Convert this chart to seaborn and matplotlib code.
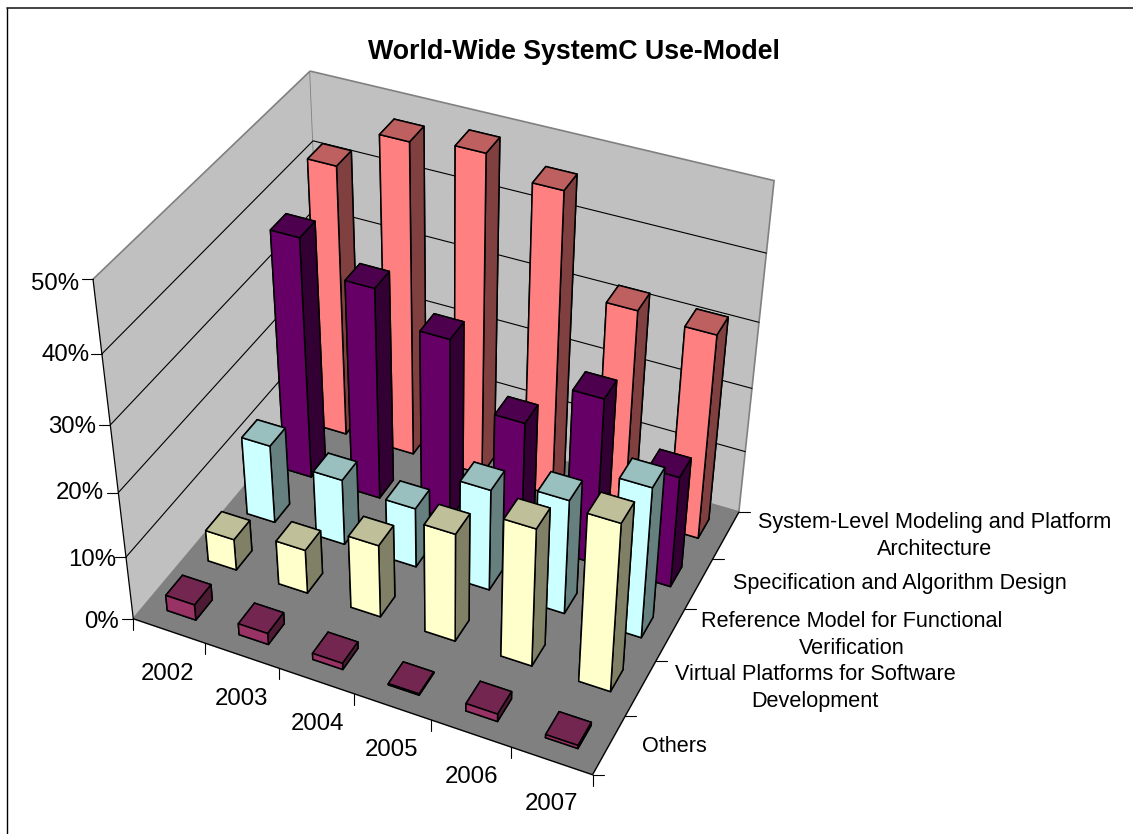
import numpy as np
import pandas as pd
import seaborn as sns
import matplotlib
matplotlib.use("Agg")
import matplotlib.pyplot as plt
from mpl_toolkits.mplot3d import proj3d

W, H = 1133, 834
years = ["2002", "2003", "2004", "2005", "2006", "2007"]
series = ["Others", "Virtual Platforms for Software\nDevelopment", "Reference Model for Functional\nVerification",
          "Specification and Algorithm Design", "System-Level Modeling and Platform\nArchitecture"]
pct_ticks = [0, 10, 20, 30, 40, 50]

others = [2.5, 1.8, 1.0, 0.2, 1.2, 0.5]
virtual_platforms = [5.0, 7.0, 11.5, 17.0, 21.5, 26.0]
reference_model = [12.5, 10.5, 9.5, 16.0, 18.0, 23.5]
spec_algorithm = [37.5, 33.0, 28.5, 19.0, 26.0, 17.5]
system_level = [42.0, 48.0, 49.0, 46.5, 32.3, 31.8]

front = ["#993366", "#FFFFCC", "#CCFFFF", "#660066", "#FF8080"]
top = ["#732650", "#BFBF99", "#99BFBF", "#4D004D", "#BF6060"]
side = ["#4D1A33", "#808066", "#668080", "#330033", "#804040"]

values = pd.DataFrame([others, virtual_platforms, reference_model, spec_algorithm, system_level],
                      index=series, columns=years)

sns.set_theme(style="white")
plt.rcParams['font.family'] = ['Liberation Sans', 'DejaVu Sans']
fig = plt.figure(figsize=(W/100, H/100), dpi=100, facecolor="white")
ax = fig.add_axes([52.66/W, 36.25/H, 763.03/W, 763.03/H], projection='3d', computed_zorder=False)
ax.set_xlim(0, 6); ax.set_ylim(0, 5); ax.set_zlim(0, 50)
ax.view_init(37.840, -64.905, 0.041)
ax.set_proj_type('persp', focal_length=0.5375)
ax.set_box_aspect((1, 0.8322, 0.8319))
ax.apply_aspect()

BAR = 0.4
PAD = (1 - BAR)/2
def to_px(x, y, z):
    u, v, _ = proj3d.proj_transform(x, y, z, ax.get_proj())
    d = ax.transData.transform((u, v))
    return d[0], H - d[1]

ax.set_xticks([]); ax.set_yticks([]); ax.set_zticks([])
ax.grid(False)
ax.xaxis.set_pane_color("#C0C0C0"); ax.yaxis.set_pane_color("#C0C0C0"); ax.zaxis.set_pane_color("#808080")
for a in (ax.xaxis, ax.yaxis, ax.zaxis):
    a.pane.set_edgecolor("#808080")
    a.pane.set_linewidth(1.2)
    a.line.set_color((0, 0, 0, 0))

# gridlines on the two walls
for t in pct_ticks[1:-1]:
    ax.plot((0, 0, 6), (0, 5, 5), (t, t, t), color="black", lw=0.8, zorder=1)

# black front edges
for xs, ys, zs in [((0, 6), (0, 0), (0, 0)), ((6, 6), (0, 5), (0, 0)), ((0, 0), (0, 0), (0, 50))]:
    ax.plot(xs, ys, zs, color="black", lw=0.9, zorder=1)

# back to front, so nearer bars cover the ones behind
z = 2
for j in range(len(series)-1, -1, -1):
    for i in range(len(years)):
        ax.bar3d(i+PAD, j+PAD, 0, BAR, BAR, values.iloc[j, i],
                 color=["none", top[j], front[j], top[j], side[j], side[j]],
                 edgecolor="black", linewidth=1.1, shade=False, zorder=z)
        z += 1

def tick(x, y, zv, dx, dy):
    px, py = to_px(x, y, zv)
    fig.add_artist(plt.Line2D([px/W, (px+dx)/W], [1-py/H, 1-(py+dy)/H], color="black", lw=0.8))

for t in pct_ticks:
    tick(0, 0, t, -11, 0)
for i in range(len(years)+1):
    tick(i, 0, 0, 0, 11)
for j in range(len(series)+1):
    tick(6, j, 0, 11, 0)

def label(px, py, s, **kw):
    fig.text(px/W, 1-py/H, s, color="black", **kw)

label(574, 52, "World-Wide SystemC Use-Model", fontsize=19.3, fontweight="bold", ha="center", va="center")
pct_pos = [(119, 622), (116, 560), (104, 493), (96, 427), (90, 355), (79, 284)]
for t, (px, py) in zip(pct_ticks, pct_pos):
    label(px, py, f"{t}%", fontsize=17.3, ha="right", va="center")
year_pos = [(168, 674), (241, 699), (317, 724), (392, 750), (472, 777), (552, 804)]
for s, (px, py) in zip(years, year_pos):
    label(px, py, s, fontsize=17.3, ha="center", va="center")
cat_pos = [(674, 746), (815, 688), (852, 635), (900, 584), (935, 536)]
for s, (px, py) in zip(series, cat_pos):
    label(px, py, s, fontsize=15.6, ha="center", va="center", linespacing=1.38)

# frame of the chart area, only top and left are inside the image
fig.add_artist(plt.Line2D([7/W, 7/W], [0, 1-7.5/H], color="black", lw=1.0))
fig.add_artist(plt.Line2D([7/W, 1], [1-7.5/H, 1-7.5/H], color="#222222", lw=1.2))

fig.savefig('out.png', dpi=100)
